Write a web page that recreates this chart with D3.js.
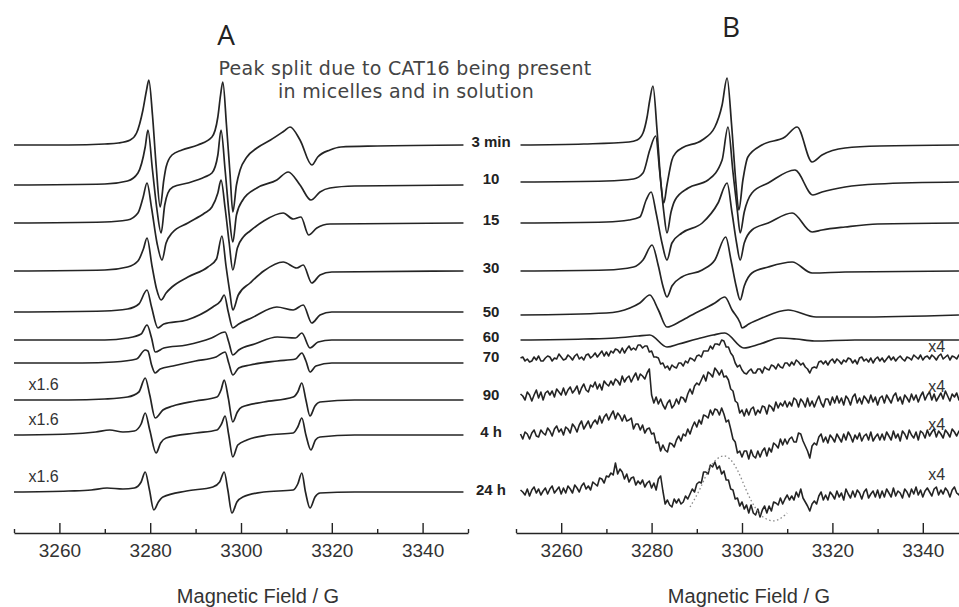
<!DOCTYPE html>
<html>
<head>
<meta charset="utf-8">
<script src="https://cdn.jsdelivr.net/npm/d3@7"></script>
<style>
  html, body { margin: 0; padding: 0; background: #fff; }
  svg { display: block; }
</style>
</head>
<body>
<svg id="chart" width="959" height="607"></svg>
<script>
// ---- data -------------------------------------------------------------
const timeLabels = ["3 min", "10", "15", "30", "50", "60", "70", "90", "4 h", "24 h"];

// vertical stacking offsets of each spectrum (intensity units)
const stackOffsetA = [388, 348, 310, 262, 221, 193, 170, 133, 98, 41];
const stackOffsetB = [388, 351, 310, 262, 218, 193, 173, 135, 98, 40];

const majorTicks = [3260, 3280, 3300, 3320, 3340];
const minorTicks = [3250, 3270, 3290, 3310, 3330, 3350];

// Panel A spectra: [field / G, intensity]
const specA_3min = [[3250,0],[3262,0],[3270,1],[3273,2],[3275.6,5],[3277,12],[3278.4,35],[3279.2,55],[3279.7,65],[3280.5,30],[3281.3,-20],[3282.2,-62],[3283,-35],[3283.5,-22],[3284.8,-10],[3287,-5],[3290.5,0],[3293.6,8],[3294.9,28],[3295.5,50],[3296,63],[3296.8,20],[3297.6,-30],[3298.2,-67],[3299,-40],[3299.8,-25],[3301.3,-12],[3303.5,-3],[3306.5,5],[3309.5,14],[3310.8,18],[3313,5],[3315.6,-20],[3316.9,-12],[3319.6,-5],[3322,-2],[3330,-1],[3349,0]];
const specA_10 = [[3250,0],[3270,1],[3275,4],[3277.3,12],[3278.9,38],[3279.5,55],[3280.5,15],[3281.5,-25],[3282.4,-48],[3283.2,-20],[3283.9,-8],[3285,-2],[3288.3,2],[3292,8],[3293.6,12],[3294.9,30],[3295.6,55],[3296.5,15],[3297.4,-30],[3298.2,-57],[3299,-30],[3300.4,-15],[3303.5,-3],[3307.9,5],[3310.4,13],[3313,0],[3315.4,-15],[3317.4,-7],[3319.6,-3],[3325,-1],[3349,0]];
const specA_15 = [[3250,0],[3270,1],[3275,3],[3277.3,10],[3278.4,25],[3279.3,40],[3280.3,15],[3281.5,-20],[3282.6,-37],[3283.5,-20],[3284.8,-10],[3288.3,0],[3292,10],[3293.6,16],[3294.9,30],[3295.6,43],[3296.5,15],[3297.4,-20],[3298.2,-47],[3299.2,-25],[3300.5,-14],[3302,-8],[3305,2],[3309.3,10],[3311.5,4],[3313.2,6],[3314.9,-12],[3316.7,-5],[3319.6,-1],[3349,0]];
const specA_30 = [[3250,0],[3270,1],[3275,4],[3277.3,10],[3278.5,22],[3279.3,33],[3280.4,5],[3281.4,-18],[3282.4,-29],[3283.5,-22],[3284.8,-16],[3288.3,-6],[3292.7,4],[3294.6,12],[3295.8,35],[3296.7,5],[3297.5,-20],[3298.2,-39],[3299.4,-24],[3302,-12],[3305,0],[3309.3,9],[3312.3,3],[3313.7,6],[3315.6,-12],[3317.4,-4],[3320,-1],[3349,0]];
const specA_50 = [[3250,0],[3270,1],[3275,3],[3277.5,8],[3279.3,22],[3280.3,5],[3281.7,-16],[3283,-12],[3288.1,-8],[3293.8,5],[3295.5,11],[3296.3,17],[3297.2,0],[3298.2,-16],[3299.5,-12],[3302.3,-6],[3307.9,5],[3311.5,2],[3313.7,7],[3315.6,-11],[3317.4,-3],[3320,0],[3349,0]];
const specA_60 = [[3250,0],[3270,0],[3275,2],[3278,6],[3279.3,15],[3280.3,2],[3281.1,-12],[3283,-8],[3288,-5],[3293.5,2],[3296.5,8],[3297.3,-2],[3298.2,-15],[3299.5,-10],[3303,-4],[3308,3],[3312,2],[3313.4,7],[3315.2,-8],[3317,-2],[3320,0],[3349,0]];
const specA_70 = [[3250,0],[3265,0],[3272,1],[3277,4],[3278.9,13],[3279.5,12],[3280.3,-2],[3281.1,-10],[3282.2,-6],[3285,-3],[3290,2],[3294.5,6],[3296.5,11],[3297.3,0],[3298.2,-12],[3299.5,-5],[3302,-2],[3308,2],[3312,4],[3313.4,10],[3314.3,2],[3315.2,-9],[3316.5,-3],[3320,0],[3349,0]];
const specA_90 = [[3250,0],[3262,0],[3270,1],[3275,3],[3277.5,8],[3278.9,22],[3279.9,5],[3281.1,-18],[3282.8,-10],[3285,-6],[3290,-1],[3294.7,3],[3295.6,10],[3296.3,20],[3297.2,2],[3298.2,-22],[3299.2,-12],[3300.2,-7],[3305,-2],[3311.5,3],[3312.5,8],[3313.4,17],[3314.3,0],[3315.2,-16],[3316.3,-6],[3317.4,-2],[3325,0],[3349,0]];
const specA_4h = [[3250,0],[3262,1],[3268,3],[3271.1,5],[3274,3],[3276.5,4],[3278,11],[3278.9,22],[3279.9,5],[3281.3,-18],[3282.3,-8],[3283.5,-3],[3290,2],[3294.7,5],[3295.7,11],[3296.5,19],[3297.3,0],[3298.2,-22],[3299.3,-10],[3301.3,-5],[3306,0],[3311.5,2],[3312.5,8],[3313.4,17],[3314.3,0],[3315.4,-15],[3316.4,-5],[3317.4,-2],[3325,0],[3349,0]];
const specA_24h = [[3250,0],[3262,1],[3267,2],[3270.5,4],[3274,3],[3276.5,4],[3278,10],[3278.9,20],[3279.8,3],[3280.8,-18],[3281.8,-10],[3282.8,-5],[3288,1],[3293.8,5],[3295.3,10],[3296.3,20],[3297.1,2],[3298,-21],[3299.1,-10],[3300.4,-5],[3305,0],[3311.5,2],[3312.5,8],[3313.4,19],[3314.2,0],[3315.2,-16],[3316.3,-5],[3317.4,-1],[3325,0],[3349,0]];

// Panel B smooth spectra: [field / G, intensity]
const specB_3min = [[3251,0],[3265,1],[3275,3],[3276.8,5],[3278.1,12],[3279,28],[3279.6,45],[3280.3,59],[3281.2,15],[3282,-35],[3282.7,-58],[3283.4,-40],[3284.5,-15],[3285.5,-7],[3286.7,-3],[3291.2,5],[3294,18],[3295.6,40],[3296.7,67],[3297.7,20],[3298.6,-35],[3299.3,-65],[3300.2,-35],[3301.3,-12],[3304.4,0],[3309.5,8],[3312.2,18],[3315.5,-17],[3317.7,-10],[3322.8,-3],[3330.5,-1],[3348,0]];
const specB_10 = [[3251,0],[3270,1],[3276,3],[3278.1,9],[3279.6,32],[3280.9,46],[3281.8,10],[3282.7,-30],[3283.4,-51],[3284.3,-30],[3285.2,-18],[3288.1,-6],[3292.5,2],[3295.6,22],[3296.9,55],[3298,10],[3299,-30],[3299.6,-51],[3300.5,-30],[3302.2,-11],[3305.8,-1],[3311.7,12],[3315.7,-13],[3317.7,-10],[3322.8,-5],[3330,-2],[3348,0]];
const specB_15 = [[3251,0],[3270,1],[3275,3],[3277.4,6],[3278.8,23],[3279.9,31],[3281,10],[3282.3,-20],[3283.4,-37],[3284.5,-20],[3286.7,-10],[3291.2,0],[3294.7,20],[3296.7,40],[3297.8,10],[3298.8,-20],[3299.6,-37],[3300.5,-20],[3302.2,-7],[3305.8,0],[3311.1,10],[3315.5,-9],[3317.7,-7],[3322.8,-4],[3330,-1],[3348,0]];
const specB_30 = [[3251,0],[3270,1],[3276,4],[3278.1,11],[3280.1,26],[3281.5,5],[3282.5,-15],[3283.4,-26],[3284.5,-15],[3286.7,-6],[3291.2,1],[3294,11],[3296.4,34],[3297.6,10],[3298.7,-15],[3299.6,-29],[3300.5,-15],[3302.2,-2],[3305.8,4],[3311.1,9],[3315.5,-2],[3322.8,-1],[3348,0]];
const specB_50 = [[3251,0],[3270,2],[3275.2,7],[3277.4,12],[3279.6,20],[3281.5,5],[3283.4,-12],[3286.5,-6],[3288.1,-2],[3294,12],[3296.2,18],[3297.8,5],[3299.6,-8],[3300,-13],[3301.5,-9],[3304.4,-3],[3310.2,5],[3316.4,-2],[3325,-2],[3348,0]];
const specB_60 = [[3251,0],[3265,1],[3272,2],[3277,4],[3279.6,5],[3283.4,-7],[3286,-4],[3290,1],[3293.6,5],[3296.2,7],[3300.4,-8],[3304,-4],[3308.4,2],[3312,1],[3316,-1],[3325,0],[3348,0]];

// Panel B noisy spectra (x4), read every 0.5 G from 3251 G to 3348.5 G
const noisyFieldsB = d3.range(3251, 3349, 0.5);
const noisyB_70 = [
  2,3,-1,1,-2,-1,3,0,4,-1,-1,2,4,3,-1,2,1,6,3,0,
  1,5,3,0,4,6,1,3,0,5,6,2,4,7,3,6,9,4,8,4,
  9,7,11,10,7,12,7,11,14,10,12,10,15,15,12,14,14,8,9,3,
  3,2,-4,-3,-8,-6,-10,-5,-7,-8,-3,-3,-6,-1,-3,2,1,-1,4,5,
  3,9,9,9,14,11,16,16,15,20,19,13,13,7,4,-3,-7,-5,-10,-13,
  -14,-11,-9,-13,-13,-9,-9,-13,-7,-9,-10,-5,-6,-9,-4,-7,-8,-3,-3,-6,
  -2,-5,0,-2,-5,-3,-7,-9,-13,-8,-7,-8,-2,-1,-4,-1,-5,-1,1,-3,
  1,-1,-4,0,-2,2,1,-3,0,-4,2,3,-1,1,-2,2,-3,1,3,-1,
  2,-2,1,4,0,3,-1,2,4,1,-1,3,2,0,5,3,1,5,0,3,
  4,1,5,3,0,4,6,1,3,5,0,4,3,1,5,2];
const noisyB_90 = [
  4,2,-2,6,3,-3,3,8,0,6,-2,5,7,3,7,1,9,6,3,10,
  3,8,11,5,8,12,4,10,14,8,6,13,11,16,9,14,8,17,14,12,
  17,13,19,17,13,22,16,20,22,16,21,25,18,24,22,19,25,29,3,-5,
  1,-6,-1,-7,-11,-5,-2,-10,-7,-1,-6,1,0,-4,4,9,4,12,15,13,
  18,23,17,26,24,21,30,27,23,28,21,22,18,9,7,-3,-5,-15,-12,-18,
  -11,-17,-11,-9,-17,-12,-15,-8,-9,-16,-7,-9,-13,-4,-10,-5,-8,-3,-9,-4,
  -8,0,-2,-9,-1,-4,-9,0,-8,-3,-9,-3,2,-5,-9,-1,-1,-7,1,-5,
  2,-5,0,-7,2,-1,-7,1,4,-5,0,-6,2,-1,-5,3,-4,1,-7,0,
  2,-5,3,-1,-5,2,5,-3,1,-6,3,0,-4,4,-2,3,-4,2,6,-2,
  3,6,-2,4,-3,1,5,-1,7,2,-3,4,1,5,-2,3];
const noisyB_4h = [
  1,-4,3,1,-4,2,5,-1,-2,5,2,0,7,4,-1,6,9,3,6,0,
  8,6,2,11,8,3,10,14,6,10,14,7,12,15,11,19,12,18,21,15,
  20,24,16,22,19,14,20,14,15,17,6,11,11,5,10,2,6,7,1,2,
  -8,-7,-16,-10,-15,-17,-8,-9,-12,-5,-1,-6,1,-1,6,1,8,13,8,15,
  11,20,19,17,25,20,26,25,20,27,21,13,15,6,-4,-7,-18,-16,-22,-16,
  -16,-24,-15,-21,-23,-16,-22,-16,-13,-21,-13,-17,-8,-10,-13,-4,-10,-4,-9,-4,
  -2,-7,-7,2,1,-6,-11,-16,-23,-11,-8,-10,-2,1,-7,-2,-8,0,-3,-7,
  1,-3,-7,1,-5,3,-1,-7,0,-4,2,-6,-1,1,-5,3,-6,-2,1,-5,
  1,-5,3,-1,-5,4,-3,1,-6,4,1,-4,5,0,-3,3,-5,4,2,-3,
  5,-1,3,6,-2,4,1,-3,5,2,-2,6,3,-1,4,1];
const noisyB_24h = [
  3,1,-2,4,-3,3,6,0,4,-2,2,5,-1,4,7,0,3,6,-1,5,
  0,7,4,0,8,5,1,7,10,4,7,3,11,9,7,15,14,10,17,16,
  20,18,30,19,24,21,14,19,11,15,16,8,12,9,13,6,10,12,5,10,
  3,14,17,2,-11,-7,-12,-14,-6,-10,-6,-11,-9,-3,-6,-1,4,1,9,11,
  10,21,21,19,28,26,31,24,27,19,22,13,13,4,3,-6,-5,-13,-9,-16,
  -12,-20,-12,-20,-22,-16,-24,-17,-13,-20,-13,-18,-9,-10,-12,-5,-11,-6,-2,-7,
  -3,-7,1,-4,4,-5,-9,-13,-18,-11,-8,-11,-3,1,-7,-2,-7,1,-2,-6,
  2,-4,0,-7,4,-1,-5,2,-4,3,0,-6,1,4,-5,-1,2,-4,3,-5,
  2,-4,4,0,-4,5,-3,2,0,-5,4,1,-4,4,-1,6,-2,3,-4,2,
  5,1,-3,4,6,-2,3,-1,5,2,-4,3,6,0,-2,4];

// simulated broad component overlaid on the 24 h spectrum of panel B
const simulated24h = [[3288.5,-14],[3290.7,3],[3292.2,20],[3293.6,31],[3295.2,37],[3296.7,38],[3298.9,26],[3301.1,0],[3303,-16],[3304.6,-25],[3306.9,-29],[3308.5,-26],[3310,-20]];

const spectraA = [specA_3min, specA_10, specA_15, specA_30, specA_50, specA_60, specA_70, specA_90, specA_4h, specA_24h];
const spectraB = [specB_3min, specB_10, specB_15, specB_30, specB_50, specB_60,
  noisyFieldsB.map((f, i) => [f, noisyB_70[i]]),
  noisyFieldsB.map((f, i) => [f, noisyB_90[i]]),
  noisyFieldsB.map((f, i) => [f, noisyB_4h[i]]),
  noisyFieldsB.map((f, i) => [f, noisyB_24h[i]])];
const noisyFromIndex = 6;

// ---- drawing ----------------------------------------------------------
const svg = d3.select("#chart");
const INK = "#242424";
const SANS = "'Liberation Sans', Arial, Helvetica, sans-serif";

const xA = d3.scaleLinear().domain([3250, 3350]).range([14, 468]);
const xB = d3.scaleLinear().domain([3250, 3350]).range([516, 968]);
const y = d3.scaleLinear().domain([0, 520]).range([533, 13]);

function drawPanel(x, spectra, offsets, noisyStart) {
  const g = svg.append("g");
  spectra.forEach((spec, i) => {
    const noisy = noisyStart !== null && i >= noisyStart;
    const line = d3.line()
      .x(d => x(d[0]))
      .y(d => y(offsets[i] + d[1]))
      .curve(noisy ? d3.curveLinear : d3.curveMonotoneX);
    g.append("path")
      .datum(spec)
      .attr("d", line)
      .attr("fill", "none")
      .attr("stroke", INK)
      .attr("stroke-width", noisy ? 1.6 : 1.7)
      .attr("stroke-linejoin", "round");
  });

  // field axis with ticks pointing up
  const axisG = g.append("g").attr("transform", `translate(0,${y(0)})`);
  axisG.call(d3.axisBottom(x).tickValues(majorTicks).tickFormat(d3.format("d"))
    .tickSizeInner(-10).tickSizeOuter(0).tickPadding(11));
  axisG.append("g").call(d3.axisBottom(x).tickValues(minorTicks).tickSizeInner(-4).tickSizeOuter(0).tickFormat(""))
    .select(".domain").remove();
  axisG.selectAll(".domain").attr("stroke", INK).attr("stroke-width", 1.6);
  axisG.selectAll(".tick line").attr("stroke", INK).attr("stroke-width", 1.4);
  axisG.selectAll(".tick text")
    .attr("font-family", SANS).attr("font-size", 19).attr("fill", "#333");
  return g;
}

drawPanel(xA, spectraA, stackOffsetA, null);
drawPanel(xB, spectraB, stackOffsetB, noisyFromIndex);

// simulated overlay
svg.append("path")
  .datum(simulated24h)
  .attr("d", d3.line().x(d => xB(d[0])).y(d => y(stackOffsetB[9] + d[1])).curve(d3.curveBasis))
  .attr("fill", "none")
  .attr("stroke", "#8a8a8a")
  .attr("stroke-width", 1.3)
  .attr("stroke-dasharray", "1.5,2.5");

// axis titles
[[258, "Magnetic Field / G"], [749, "Magnetic Field / G"]].forEach(([cx, t]) => {
  svg.append("text").attr("x", cx).attr("y", 603)
    .attr("text-anchor", "middle")
    .attr("font-family", SANS).attr("font-size", 20).attr("fill", "#333")
    .text(t);
});

// time labels between the panels
svg.append("g").selectAll("text")
  .data(timeLabels)
  .join("text")
  .attr("x", 491)
  .attr("y", (d, i) => y(stackOffsetB[i]) - 3)
  .attr("dy", "0.35em")
  .attr("text-anchor", "middle")
  .attr("font-family", SANS).attr("font-size", 15).attr("font-weight", "bold")
  .attr("fill", "#222")
  .text(d => d);

// gain factors
const gainA = [{ i: 7, t: "x1.6" }, { i: 8, t: "x1.6" }, { i: 9, t: "x1.6" }];
gainA.forEach(d => {
  svg.append("text").attr("x", xA(3253.2)).attr("y", y(stackOffsetA[d.i]) - 10)
    .attr("font-family", SANS).attr("font-size", 16).attr("fill", "#333").text(d.t);
});
const gainB = [{ i: 6, t: "x4", dy: 8 }, { i: 7, t: "x4", dy: 6 }, { i: 8, t: "x4", dy: 5 }, { i: 9, t: "x4", dy: 13 }];
gainB.forEach(d => {
  svg.append("text").attr("x", xB(3341.2)).attr("y", y(stackOffsetB[d.i]) - d.dy)
    .attr("font-family", SANS).attr("font-size", 16).attr("fill", "#333").text(d.t);
});

// panel letters
svg.append("text").attr("x", 226).attr("y", 45).attr("text-anchor", "middle")
  .attr("font-family", "'Open Sans', sans-serif").attr("font-size", 28).attr("fill", "#222").text("A");
svg.append("text").attr("x", 731).attr("y", 37).attr("text-anchor", "middle")
  .attr("font-family", "'Open Sans', sans-serif").attr("font-size", 28).attr("fill", "#222").text("B");

// annotation
const note = svg.append("text").attr("text-anchor", "middle")
  .attr("font-family", "'DejaVu Sans', sans-serif").attr("font-size", 19)
  .attr("letter-spacing", 0.3).attr("fill", "#444");
note.append("tspan").attr("x", 405).attr("y", 75).text("Peak split due to CAT16 being present");
note.append("tspan").attr("x", 406).attr("y", 98).text("in micelles and in solution");
</script>
</body>
</html>
